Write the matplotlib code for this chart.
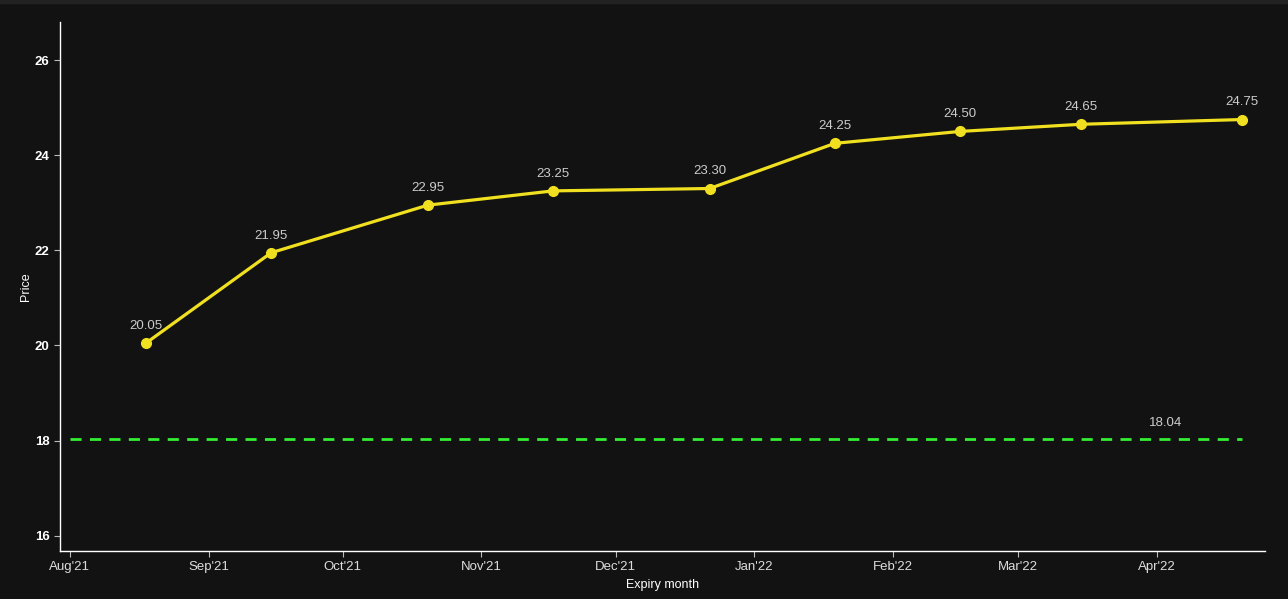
import pandas as pd
import matplotlib.pyplot as plt
import matplotlib.dates as mdates

# Dados da curva de futuros
expiry_dates = ['2021-08-18', '2021-09-15', '2021-10-20', '2021-11-17', '2021-12-22',
                '2022-01-19', '2022-02-16', '2022-03-15', '2022-04-20']
prices = [20.05, 21.95, 22.95, 23.25, 23.30, 24.25, 24.50, 24.65, 24.75]

# Valor spot
spot_value = 18.04
spot_start = '2021-08-01'
spot_end = '2022-04-20'
spot_label_date = '2022-04-03'

x_limits = ['2021-07-29 19:00', '2022-04-25 03:00']
y_limits = [15.68, 26.8]
y_ticks = [16, 18, 20, 22, 24, 26]

dates = pd.to_datetime(expiry_dates)
bg = '#121212'

plt.rcParams['font.family'] = ['Liberation Sans', 'DejaVu Sans']

fig = plt.figure(figsize=(12.88, 5.99), dpi=100, facecolor=bg)
# faixa cinza no topo
fig.patches.append(plt.Rectangle((0, 0.995), 1, 0.005, transform=fig.transFigure,
                                 color='#222222', zorder=0))
ax = fig.add_axes([60 / 1288, 48 / 599, 1205 / 1288, 529 / 599])
ax.set_facecolor(bg)

# Linha do spot
ax.plot(pd.to_datetime([spot_start, spot_end]), [spot_value, spot_value],
        color='#33ee33', linewidth=2, linestyle=(0, (4, 3)))
ax.annotate(f'{spot_value:.2f}', (pd.Timestamp(spot_label_date), spot_value),
            xytext=(0, 7), textcoords='offset points', ha='center', va='bottom',
            color='#cccccc', fontsize=9.5)

# Curva de futuros
ax.plot(dates, prices, color='#f0e020', linewidth=2.3, marker='o', markersize=7)
for d, p in zip(dates, prices):
    ax.annotate(f'{p:.2f}', (d, p), xytext=(0, 8), textcoords='offset points',
                ha='center', va='bottom', color='#cccccc', fontsize=9.5)

ax.set_xlim(pd.to_datetime(x_limits))
ax.set_ylim(y_limits)
ax.set_yticks(y_ticks)
ax.xaxis.set_major_locator(mdates.MonthLocator())
ax.xaxis.set_major_formatter(mdates.DateFormatter("%b'%y"))

for side in ['top', 'right']:
    ax.spines[side].set_visible(False)
for side in ['left', 'bottom']:
    ax.spines[side].set_color('white')
    ax.spines[side].set_linewidth(1)

ax.tick_params(axis='y', colors='#bbbbbb', labelcolor='white', labelsize=9.5, length=4)
ax.tick_params(axis='x', colors='#bbbbbb', labelcolor='#dddddd', labelsize=9.5, length=4)
for lbl in ax.get_yticklabels():
    lbl.set_fontweight('bold')

ax.set_xlabel('Expiry month', color='white', fontsize=9, labelpad=4)
ax.set_ylabel('Price', color='white', fontsize=9, labelpad=2)

fig.savefig('out.png', dpi=100, facecolor=bg)
